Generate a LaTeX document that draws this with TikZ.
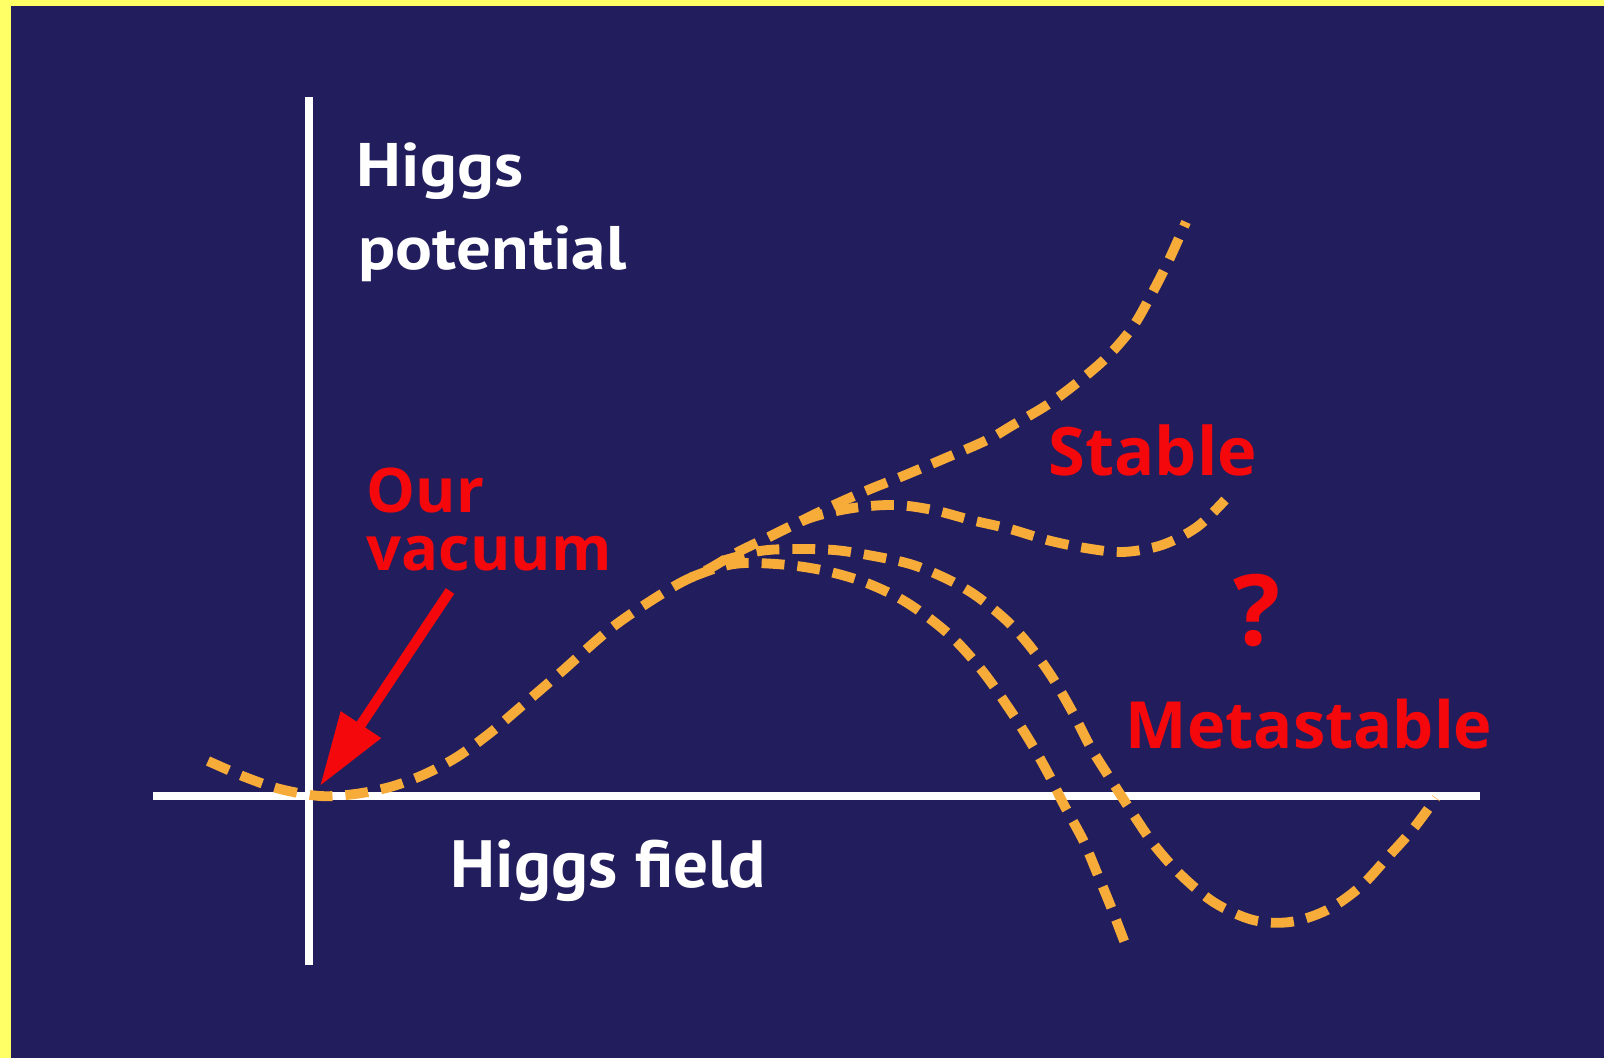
\documentclass[tikz,border=0pt]{standalone}
\usepackage{fontspec}
\setmainfont{PT Sans}
\newfontfamily\whitefont[FakeStretch=1.12]{PT Sans}
\newfontfamily\fieldfont[FakeStretch=1.035]{PT Sans}
\newfontfamily\redfont{Open Sans}
\usetikzlibrary{arrows.meta}
\definecolor{navy}{RGB}{34,29,92}
\definecolor{ybord}{RGB}{255,255,102}
\definecolor{curveor}{RGB}{247,172,58}
\definecolor{lblred}{RGB}{245,8,12}
\tikzset{
  axisline/.style={white, line width=2.3pt},
  pot/.style={curveor, line width=2.8pt, dash pattern=on 6.5pt off 3.7pt, smooth, tension=0.55},
  whitelbl/.style={text=white, font=\whitefont\bfseries\fontsize{17.5pt}{21pt}\selectfont, anchor=base west, inner sep=0pt},
  redlbl/.style={text=lblred, font=\redfont\bfseries\fontsize{19pt}{22pt}\selectfont, anchor=base west, inner sep=0pt},
  vacarrow/.style={lblred, line width=2.9pt, -{Triangle[length=21pt,width=13pt]}}
}
\begin{document}
\begin{tikzpicture}[x=0.01cm,y=-0.01cm]
\useasboundingbox (0,0) rectangle (1604,1058);
\fill[navy] (0,0) rectangle (1604,1058);
\fill[ybord] (0,0) rectangle (1604,6);
\fill[ybord] (0,0) rectangle (11,1058);
% axes
\coordinate (ytop) at (309,97);
\coordinate (ybot) at (309,965);
\coordinate (xleft) at (153,796);
\coordinate (xright) at (1480,796);
\draw[axisline] (ytop) -- (ybot);
\draw[axisline] (xleft) -- (xright);
% main (stable) curve
\draw[pot] plot coordinates {(208,761) (245,777) (280,789) (320,796) (355,794) (390,787) (423,775) (457,757) (490,733) (517,710) (560,673) (614,626) (673,587) (707,570) (738,552) (769,537) (803,520) (834,505) (868,490) (903,476) (941,460) (987,440) (1013,425) (1047,405) (1078,382) (1107,357) (1132,328) (1150,297) (1168,262) (1186,222)};
% stable branch with second shallow minimum
\draw[pot] plot coordinates {(769,537) (810,518) (853,508) (895,505) (933,510) (971,520) (1010,529) (1047,540) (1085,548) (1123,552) (1162,545) (1197,527) (1225,500)};
% metastable branch
\draw[pot] plot coordinates {(722,561) (760,551) (795,549) (834,550) (868,555) (910,564) (945,578) (975,595) (1006,620) (1029,645) (1052,677) (1073,713) (1091,748) (1113,783) (1133,814) (1155,846) (1182,876) (1215,903) (1253,920) (1290,922) (1327,910) (1360,887) (1387,858) (1413,829) (1436,798)};
% unstable branch
\draw[pot] plot coordinates {(692,577) (720,567) (746,563) (788,565) (826,571) (864,582) (899,598) (929,618) (956,641) (984,673) (1010,710) (1031,743) (1049,775) (1064,805) (1083,840) (1097,873) (1111,907) (1126,946)};
% labels
\node[whitelbl] (ylab1) at (356,187) {Higgs};
\node[whitelbl] (ylab2) at (358,270) {potential};
\node[whitelbl, font=\fieldfont\bfseries\fontsize{19pt}{22pt}\selectfont] (xlab) at (450,887) {Higgs field};
\node[redlbl, font=\redfont\bfseries\fontsize{17.5pt}{21pt}\selectfont] (our1) at (366,512) {Our};
\node[redlbl, font=\redfont\bfseries\fontsize{17.5pt}{21pt}\selectfont] (our2) at (366,570) {vacuum};
\node[redlbl] (stable) at (1048,475) {Stable};
\node[redlbl, font=\redfont\bfseries\fontsize{18.5pt}{24pt}\selectfont] (meta) at (1125,748) {Metastable};
\node[text=lblred, font=\redfont\bfseries\fontsize{28pt}{32pt}\selectfont, anchor=base, inner sep=0pt] (qmark) at (1257,645) {?};
% arrow
\coordinate (arrstart) at (450,591);
\coordinate (vac) at (320,786);
\draw[vacarrow] (arrstart) -- (vac);
\end{tikzpicture}
\end{document}
